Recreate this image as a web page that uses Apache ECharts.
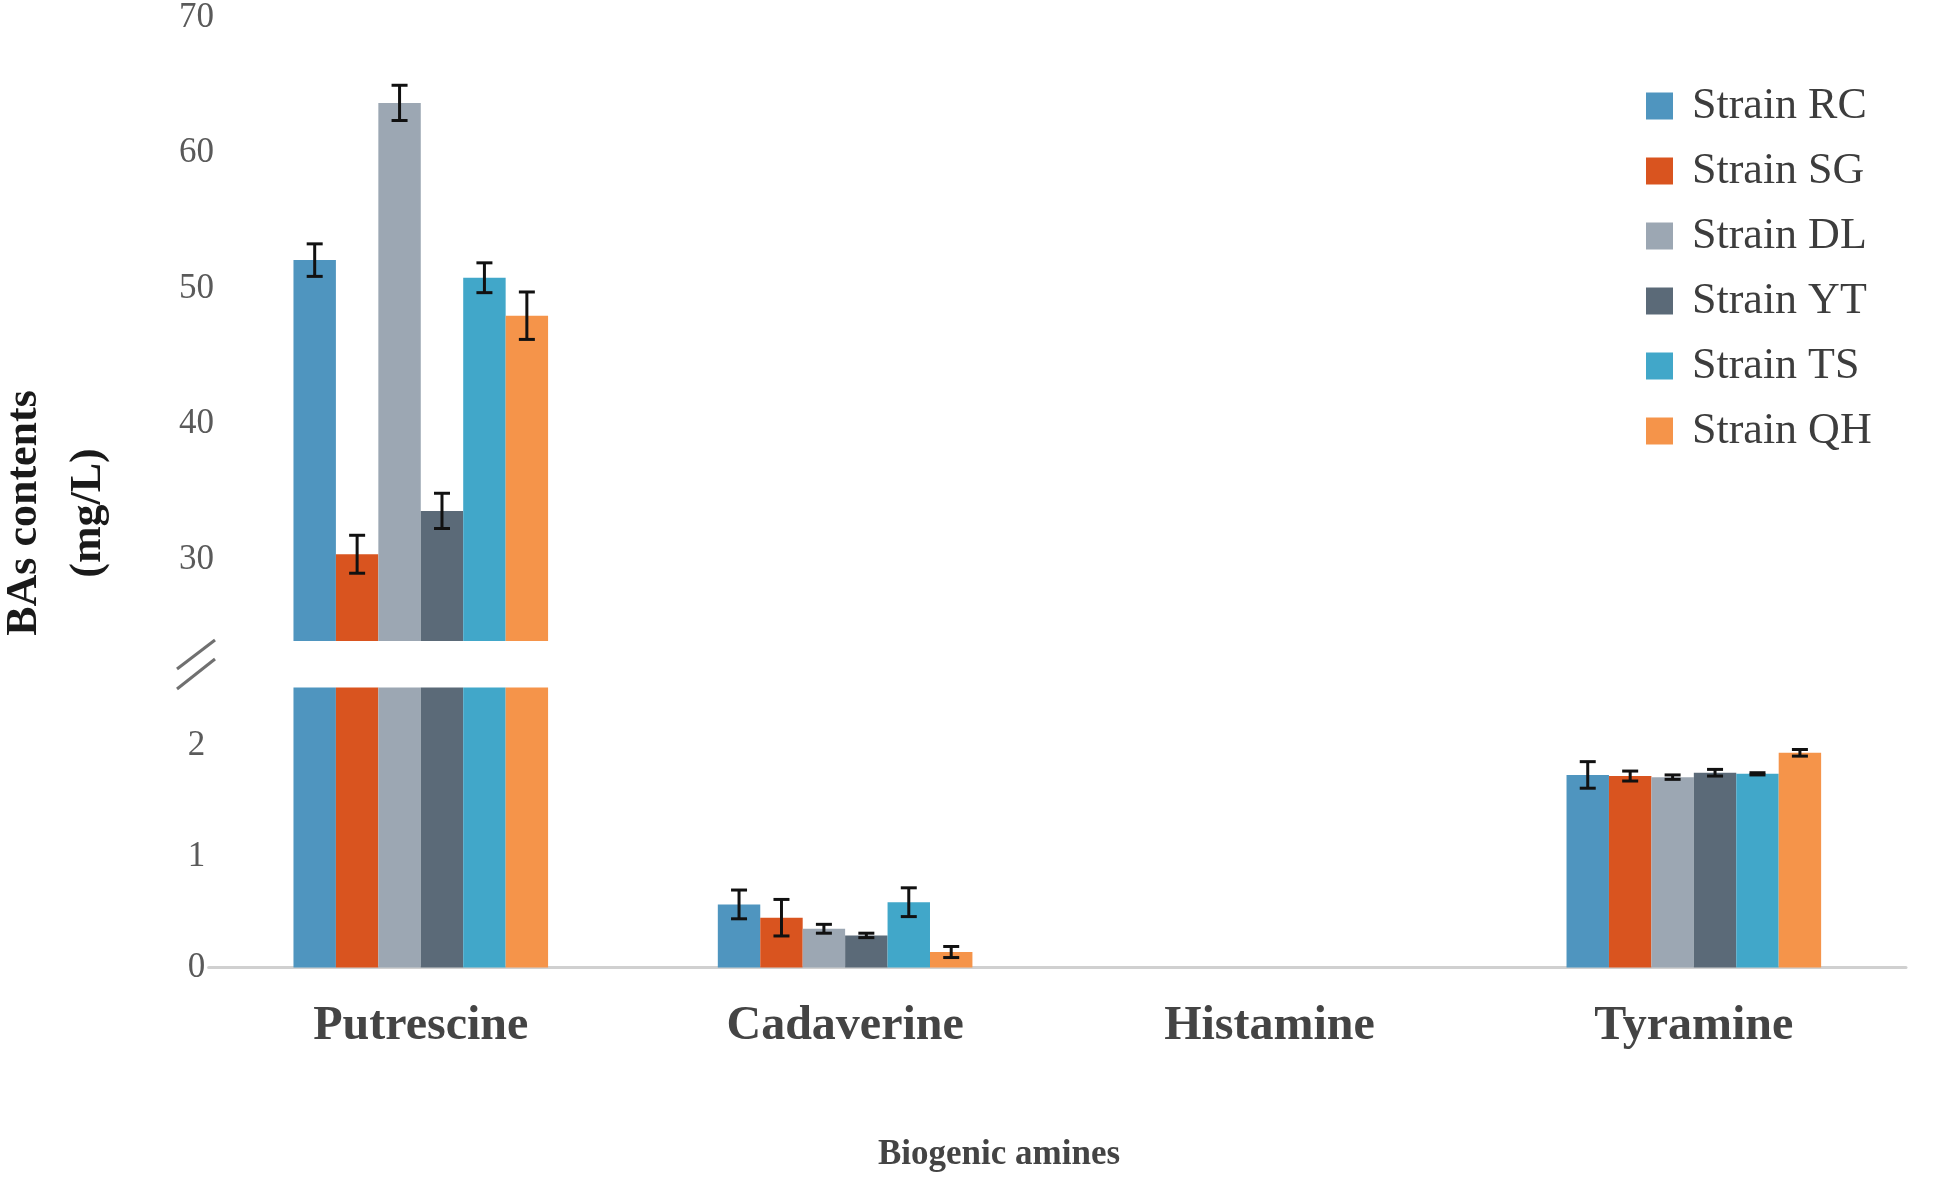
<!DOCTYPE html>
<html><head><meta charset="utf-8">
<script src="https://cdn.jsdelivr.net/npm/echarts/dist/echarts.min.js"></script>
<style>html,body{margin:0;padding:0;background:#fff}#c{width:1955px;height:1180px}</style>
</head><body><div id="c"></div>
<script>
const categories = ['Putrescine', 'Cadaverine', 'Histamine', 'Tyramine'];
const strains = ['Strain RC', 'Strain SG', 'Strain DL', 'Strain YT', 'Strain TS', 'Strain QH'];
const colors = ['#4F95BF', '#D9541F', '#9CA7B3', '#5B6A78', '#41A7C9', '#F5944A'];

// mean contents (mg/L) per strain, in category order
const meanRC = [52.1, 0.57, 0, 1.74];
const meanSG = [30.4, 0.45, 0, 1.73];
const meanDL = [63.7, 0.35, 0, 1.72];
const meanYT = [33.6, 0.29, 0, 1.76];
const meanTS = [50.8, 0.59, 0, 1.75];
const meanQH = [48.0, 0.14, 0, 1.94];

// standard deviations
const sdRC = [1.2, 0.13, 0, 0.12];
const sdSG = [1.4, 0.165, 0, 0.045];
const sdDL = [1.3, 0.04, 0, 0.02];
const sdYT = [1.3, 0.02, 0, 0.03];
const sdTS = [1.1, 0.13, 0, 0.01];
const sdQH = [1.75, 0.05, 0, 0.03];

// tick labels of the broken y axis
const upperTickLabels = [30, 40, 50, 60, 70];
const lowerTickLabels = [0, 1, 2];
const upperMin = 24, upperMax = 70;
const lowerMin = 0, lowerMax = 2.53;

const means = [meanRC, meanSG, meanDL, meanYT, meanTS, meanQH];
const sds = [sdRC, sdSG, sdDL, sdYT, sdTS, sdQH];
const GAP = 0.4;

function makeErr(si, keep, xi, yi) {
  const data = [];
  means[si].forEach((m, ci) => { if (m > 0 && keep(m)) data.push([ci, m, sds[si][ci]]); });
  return {
    type: 'custom', xAxisIndex: xi, yAxisIndex: yi, z: 10, silent: true,
    renderItem: (params, api) => {
      const ci = api.value(0), m = api.value(1), e = api.value(2);
      const band = api.size([1, 0])[0];
      const bw = band * (1 - GAP) / strains.length;
      const x = api.coord([ci, m])[0] + (si - (strains.length - 1) / 2) * bw;
      const yt = api.coord([ci, m + e])[1], yb = api.coord([ci, m - e])[1];
      const hw = 8;
      const st = { stroke: '#111', lineWidth: 3 };
      return { type: 'group', children: [
        { type: 'line', shape: { x1: x, y1: yt, x2: x, y2: yb }, style: st },
        { type: 'line', shape: { x1: x - hw, y1: yt, x2: x + hw, y2: yt }, style: st },
        { type: 'line', shape: { x1: x - hw, y1: yb, x2: x + hw, y2: yb }, style: st }
      ] };
    },
    data: data
  };
}

const series = [];
strains.forEach((name, si) => {
  series.push({
    name: name, type: 'bar', xAxisIndex: 0, yAxisIndex: 0, clip: true,
    barGap: '0%', barCategoryGap: (GAP * 100) + '%',
    itemStyle: { color: colors[si] },
    data: means[si].map(v => v >= upperMin ? v : '-')
  });
  series.push({
    name: name, type: 'bar', xAxisIndex: 1, yAxisIndex: 1, clip: true,
    barGap: '0%', barCategoryGap: (GAP * 100) + '%',
    itemStyle: { color: colors[si] },
    data: means[si].slice()
  });
});
strains.forEach((name, si) => {
  series.push(makeErr(si, m => m >= upperMin, 0, 0));
  series.push(makeErr(si, m => m <= lowerMax, 1, 1));
});

const serif = '"Liberation Serif", "Times New Roman", serif';
const chart = echarts.init(document.getElementById('c'));
chart.setOption({
  backgroundColor: '#fff',
  animation: false,
  legend: {
    data: strains, orient: 'vertical', left: 1641, top: 79,
    icon: 'rect', itemWidth: 27, itemHeight: 27, itemGap: 21,
    textStyle: { fontFamily: serif, fontSize: 44, color: '#3d3d3d', lineHeight: 27, padding: [0, 0, 0, 14] }
  },
  grid: [
    { left: 208.6, right: 49, top: 17.5, height: 623.5 },
    { left: 208.6, right: 49, top: 687.5, bottom: 212.5 }
  ],
  xAxis: [
    { type: 'category', gridIndex: 0, data: categories, show: false },
    { type: 'category', gridIndex: 1, data: categories,
      axisLine: { lineStyle: { color: '#d0d0d0', width: 3 } },
      axisTick: { show: false },
      axisLabel: { margin: 35, fontFamily: serif, fontWeight: 'bold', fontSize: 48, color: '#444' } }
  ],
  yAxis: [
    { type: 'value', gridIndex: 0, min: upperMin, max: upperMax, splitNumber: 5,
      axisLine: { show: false }, axisTick: { show: false }, splitLine: { show: false },
      axisLabel: { align: 'center', margin: 12, fontFamily: serif, fontSize: 35, color: '#5a5a5a',
        formatter: v => upperTickLabels.indexOf(Math.round(v * 1000) / 1000) >= 0 ? String(v) : '' } },
    { type: 'value', gridIndex: 1, min: lowerMin, max: lowerMax, interval: 1,
      axisLine: { show: false }, axisTick: { show: false }, splitLine: { show: false },
      axisLabel: { align: 'center', margin: 12, fontFamily: serif, fontSize: 35, color: '#5a5a5a',
        formatter: v => lowerTickLabels.indexOf(Math.round(v * 1000) / 1000) >= 0 ? String(v) : '' } }
  ],
  graphic: [
    { type: 'line', shape: { x1: 177, y1: 669, x2: 215, y2: 640 }, style: { stroke: '#707070', lineWidth: 3 } },
    { type: 'line', shape: { x1: 177, y1: 689, x2: 215, y2: 659 }, style: { stroke: '#707070', lineWidth: 3 } },
    { type: 'text', x: 57, y: 513, rotation: Math.PI / 2,
      style: { text: 'BAs contents\n(mg/L)', font: 'bold 44px ' + serif, fill: '#1a1a1a',
        textAlign: 'center', textVerticalAlign: 'middle', lineHeight: 64 } },
    { type: 'text', x: 999, y: 1155,
      style: { text: 'Biogenic amines', font: 'bold 35px ' + serif, fill: '#444',
        textAlign: 'center', textVerticalAlign: 'middle' } }
  ],
  series: series
});
</script></body></html>
